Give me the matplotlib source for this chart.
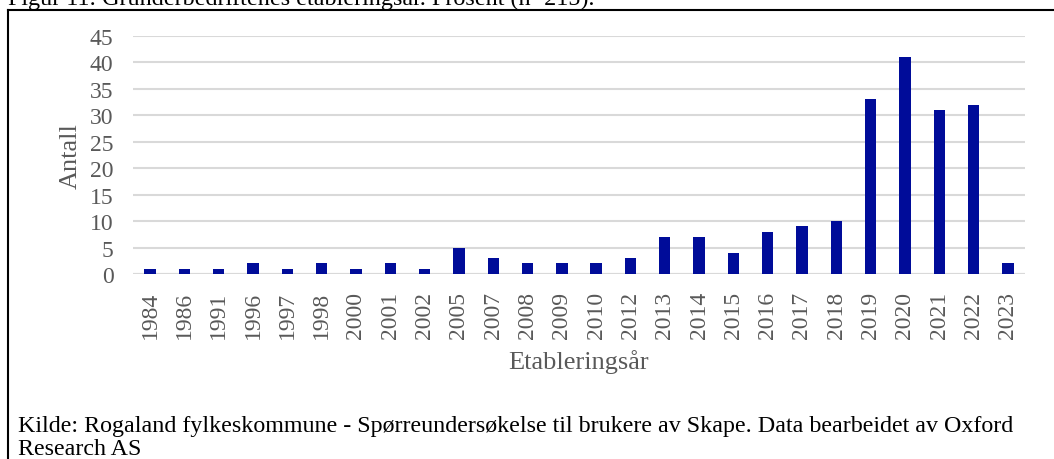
import matplotlib.pyplot as plt
from matplotlib.lines import Line2D
import numpy as np

# data
years = ['1984', '1986', '1991', '1996', '1997', '1998', '2000', '2001', '2002',
         '2005', '2007', '2008', '2009', '2010', '2012', '2013', '2014', '2015',
         '2016', '2017', '2018', '2019', '2020', '2021', '2022', '2023']
antall = [1, 1, 1, 2, 1, 2, 1, 2, 1, 5, 3, 2, 2, 2, 3, 7, 7, 4, 8, 9, 10,
          33, 41, 31, 32, 2]
y_ticks = list(range(0, 50, 5))

title = "Figur 11: Gründerbedriftenes etableringsår. Prosent (n=215)."
source_1 = ("Kilde: Rogaland fylkeskommune - Spørreundersøkelse til brukere av Skape. "
            "Data bearbeidet av Oxford")
source_2 = "Research AS"

plt.rcParams['font.family'] = ['Liberation Serif', 'DejaVu Serif']
grey = '#595959'
W, H = 1054, 460

fig = plt.figure(figsize=(W / 100, H / 100), dpi=100)
ax = fig.add_axes([133 / W, 1 - 275 / H, 892 / W, 238 / H])

x = np.arange(len(years))
ax.bar(x, antall, width=0.33, color='#000C99', zorder=3)

ax.set_xlim(-0.5, len(years) - 0.5)
ax.set_ylim(0, 45)
ax.set_yticks(y_ticks)
ax.set_xticks(x)
ax.set_xticklabels(years, rotation=90)
ax.tick_params(axis='both', length=0, labelsize=17, colors=grey)
ax.tick_params(axis='y', pad=14)
ax.tick_params(axis='x', pad=12)
ax.grid(axis='y', color='#d9d9d9', linewidth=1.5, zorder=0)
for s in ax.spines.values():
    s.set_visible(False)
ax.axhline(0, color='#d9d9d9', linewidth=1.5, zorder=2)

ax.set_ylabel('Antall', fontsize=19, color=grey, labelpad=6)
ax.set_xlabel('Etableringsår', fontsize=19, color=grey, labelpad=8)

# outer frame (left and top edges visible in the crop)
fig.add_artist(Line2D([8 / W, 8 / W], [0, 1 - 11 / H],
                      transform=fig.transFigure, color='black', linewidth=1.5))
fig.add_artist(Line2D([8 / W, 1], [1 - 11 / H, 1 - 11 / H],
                      transform=fig.transFigure, color='black', linewidth=1.5))

# title cut off at the top of the picture, as in the source
fig.text(8 / W, 1 - 5 / H, title, fontsize=17.4, color='black',
         ha='left', va='baseline')
fig.text(18 / W, 1 - 432 / H, source_1, fontsize=17.3, color='black',
         ha='left', va='baseline')
fig.text(18 / W, 1 - 455 / H, source_2, fontsize=17.3, color='black',
         ha='left', va='baseline')

fig.savefig('out.png', dpi=100)
